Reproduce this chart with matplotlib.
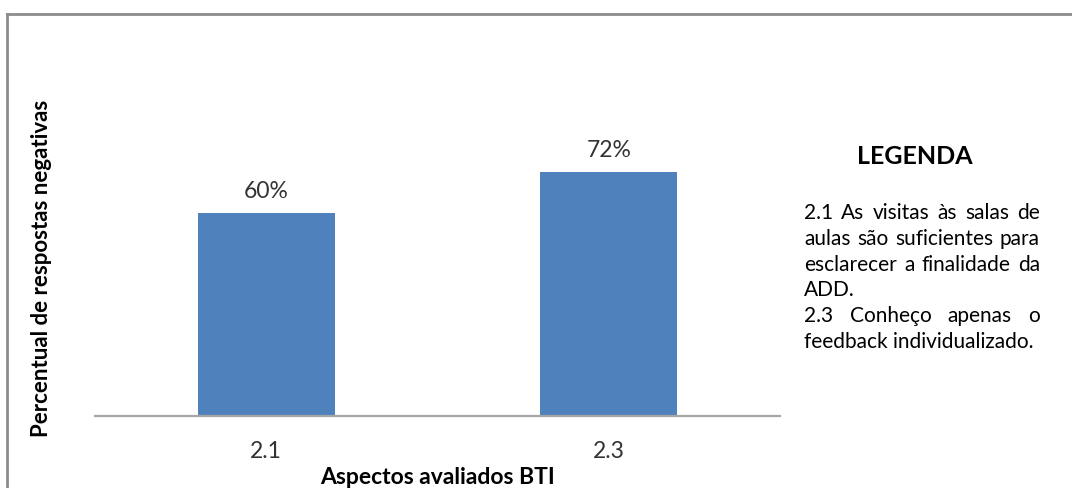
import matplotlib
matplotlib.use("Agg")
import matplotlib.pyplot as plt
from matplotlib.lines import Line2D

# Data
categorias = ["2.1", "2.3"]
percentuais = [60, 72]
rotulos = ["60%", "72%"]

titulo_legenda = "LEGENDA"
paragrafos = [
    ["2.1 As visitas às salas de", "aulas são suficientes para",
     "esclarecer a finalidade da", "ADD."],
    ["2.3 Conheço apenas o", "feedback individualizado."],
]

plt.rcParams['font.family'] = ['Lato', 'DejaVu Sans']

W, H = 1072, 488
fig = plt.figure(figsize=(W / 100, H / 100), dpi=100)

# Plot area
ax = fig.add_axes([95 / W, 72 / H, 685 / W, 271 / H])
x = range(len(categorias))
ax.bar(x, percentuais, width=0.4, color="#4F81BD")
ax.set_xlim(-0.5, len(categorias) - 0.5)
ax.set_ylim(0, 80)
ax.set_xticks(list(x))
ax.set_xticklabels(categorias, fontsize=16.5, color="#333333")
ax.tick_params(axis="x", length=0, pad=18)
ax.set_yticks([])
for s in ["top", "right", "left"]:
    ax.spines[s].set_visible(False)
ax.spines["bottom"].set_color("#A6A6A6")
ax.spines["bottom"].set_linewidth(1.6)

for i, (v, r) in enumerate(zip(percentuais, rotulos)):
    ax.annotate(r, (i, v), xytext=(0, 8), textcoords="offset points",
                ha="center", va="bottom", fontsize=16.5, color="#333333")

# Axis titles
fig.text(437 / W, 1 - 478 / H, "Aspectos avaliados BTI", ha="center", va="center",
         fontsize=16.5, fontweight="bold")
fig.text(42 / W, 1 - 268 / H, "Percentual de respostas negativas", ha="center",
         va="center", rotation=90, fontsize=16, fontweight="bold")

# Chart border (top and left edges visible)
fig.add_artist(Line2D([7 / W, 1.0], [1 - 14 / H, 1 - 14 / H], color="#8C8C8C", lw=2))
fig.add_artist(Line2D([7 / W, 7 / W], [1 - 14 / H, 0], color="#8C8C8C", lw=2))

# Legend box text
fig.text(915 / W, 1 - 157 / H, titulo_legenda, ha="center", va="center",
         fontsize=18, fontweight="bold")

renderer = fig.canvas.get_renderer()
esq, dir = 804 / W, 1040 / W
y = 213
for par in paragrafos:
    for k, linha in enumerate(par):
        yy = 1 - y / H
        palavras = linha.split()
        ultima = k == len(par) - 1
        if ultima or len(palavras) == 1:
            fig.text(esq, yy, linha, ha="left", va="center", fontsize=15)
        else:
            # justified line: spread words between both margins
            objs = [fig.text(0, yy, p, ha="left", va="center", fontsize=15) for p in palavras]
            larg = [o.get_window_extent(renderer).width / W for o in objs]
            folga = (dir - esq - sum(larg)) / (len(palavras) - 1)
            pos = esq
            for o, l in zip(objs, larg):
                o.set_x(pos)
                pos += l + folga
        y += 25.8

fig.savefig("out.png", dpi=100)
